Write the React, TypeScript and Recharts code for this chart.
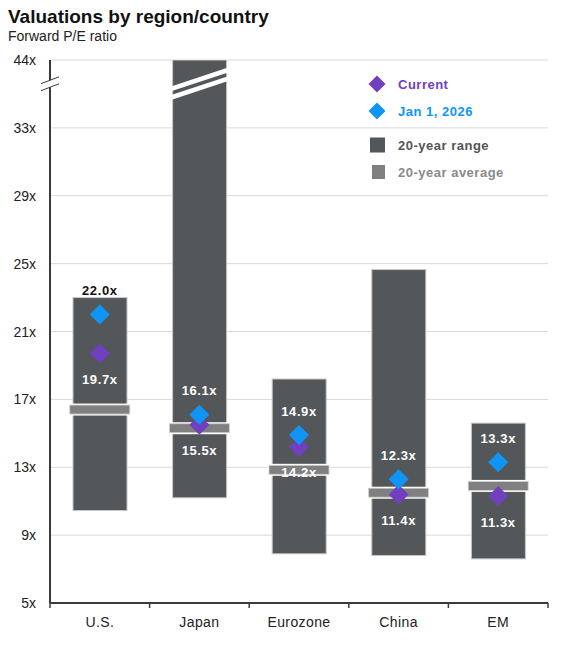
import { Bar, CartesianGrid, ComposedChart, Scatter, XAxis, YAxis } from 'recharts';

const REGIONS = ['U.S.', 'Japan', 'Eurozone', 'China', 'EM'];
const RANGE_LOW = [10.45, 11.2, 7.9, 7.8, 7.6];
const RANGE_HIGH = [23.0, 44.0, 18.2, 24.65, 15.6];
const AVERAGE = [16.4, 15.3, 12.85, 11.5, 11.9];
const CURRENT = [19.7, 15.5, 14.2, 11.4, 11.3];
const JAN_2026 = [22.0, 16.1, 14.9, 12.3, 13.3];
const Y_TICKS = [5, 9, 13, 17, 21, 25, 29, 33, 44];

// axis is broken above 33x: 33 -> 44 squeezed into one tick step
const BREAK_FROM = 33;
const toAxis = (v: number) => (v <= BREAK_FROM ? v : BREAK_FROM + ((v - BREAK_FROM) * 4) / 11);
const fromAxis = (v: number) => (v <= BREAK_FROM ? v : Math.round(BREAK_FROM + ((v - BREAK_FROM) * 11) / 4));

const W = 568;
const H = 647;
const MARGIN = { top: 60, right: 20, bottom: 14, left: 0 };
const Y_AXIS_W = 50;
const X_AXIS_H = 30;
const PLOT_BOTTOM = H - MARGIN.bottom - X_AXIS_H;
const Y_MIN = 5;
const Y_MAX = toAxis(44);
const PX_PER_UNIT = (PLOT_BOTTOM - MARGIN.top) / (Y_MAX - Y_MIN);
const BAND = (W - MARGIN.right - Y_AXIS_W) / REGIONS.length;
const BREAK_AT = 35.6;

const FONT = 'Arial, "Liberation Sans", sans-serif';
const AXIS_COLOR = '#3a3a3a';
const RANGE_FILL = '#54575a';
const RANGE_EDGE = '#c6c6c6';
const AVG_FILL = '#808080';
const PURPLE = '#7040c0';
const BLUE = '#0f95f7';

const rows = REGIONS.map((region, i) => ({
  region,
  low: RANGE_LOW[i],
  high: RANGE_HIGH[i],
  range: [toAxis(RANGE_LOW[i]), toAxis(RANGE_HIGH[i])],
  average: AVERAGE[i],
  current: CURRENT[i],
  jan: JAN_2026[i],
}));

function Diamond({ cx, cy, r, fill }: { cx: number; cy: number; r: number; fill: string }) {
  return <polygon points={`${cx},${cy - r} ${cx + r},${cy} ${cx},${cy + r} ${cx - r},${cy}`} fill={fill} />;
}

function ValueLabel({ x, y, color, children }: any) {
  return (
    <text
      x={x}
      y={y}
      textAnchor="middle"
      dominantBaseline="central"
      fontFamily={FONT}
      fontSize={13}
      fontWeight="bold"
      letterSpacing={0.6}
      fill={color}
    >
      {children}
    </text>
  );
}

function RangeShape(props: any) {
  const { x, y, width, height, payload } = props;
  const top = toAxis(payload.high);
  const broken = payload.high > BREAK_FROM;
  const breakY = y + (top - BREAK_AT) * (height / (top - payload.low));
  const slope = 0.33;
  const xc = x + width / 2;
  const stripe = (offset: number) => {
    const x1 = x - 3;
    const x2 = x + width + 3;
    return (
      <line
        x1={x1}
        y1={breakY + offset - (x1 - xc) * slope}
        x2={x2}
        y2={breakY + offset - (x2 - xc) * slope}
        stroke="#fff"
        strokeWidth={4.6}
      />
    );
  };
  return (
    <g>
      <rect x={x} y={y} width={width} height={height} fill={RANGE_FILL} stroke={RANGE_EDGE} strokeWidth={1} />
      {broken && (
        <g>
          {stripe(-4.3)}
          {stripe(4.3)}
        </g>
      )}
    </g>
  );
}

function AverageShape(props: any) {
  const { cx, cy } = props;
  return (
    <g>
      <rect x={cx - 31} y={cy - 6} width={62} height={12} fill="#fff" />
      <rect x={cx - 30} y={cy - 4.5} width={60} height={9} fill={AVG_FILL} stroke="#d2d2d2" strokeWidth={0.8} />
    </g>
  );
}

function CurrentShape(props: any) {
  const { cx, cy, payload } = props;
  return (
    <g>
      <Diamond cx={cx} cy={cy} r={10} fill={PURPLE} />
      <ValueLabel x={cx} y={cy + 26} color="#fff">
        {payload.current.toFixed(1)}x
      </ValueLabel>
    </g>
  );
}

function JanShape(props: any) {
  const { cx, cy, payload } = props;
  const inside = toAxis(payload.jan) + 24 / PX_PER_UNIT < toAxis(payload.high);
  return (
    <g>
      <Diamond cx={cx} cy={cy} r={10} fill={BLUE} />
      <ValueLabel x={cx} y={cy - 24} color={inside ? '#fff' : '#111'}>
        {payload.jan.toFixed(1)}x
      </ValueLabel>
    </g>
  );
}

function RegionTick(props: any) {
  const { x, y, payload, index } = props;
  const half = BAND / 2;
  return (
    <g>
      <line x1={x - half} x2={x - half} y1={y} y2={y + 5} stroke={AXIS_COLOR} strokeWidth={1.5} />
      {index === REGIONS.length - 1 && (
        <line x1={x + half} x2={x + half} y1={y} y2={y + 5} stroke={AXIS_COLOR} strokeWidth={1.5} />
      )}
      <text x={x} y={y + 19} textAnchor="middle" dominantBaseline="central" fontFamily={FONT} fontSize={14} letterSpacing={0.4} fill="#222">
        {payload.value}
      </text>
    </g>
  );
}

function ValueTick(props: any) {
  const { x, y, payload } = props;
  const isTop = payload.value === Y_MAX;
  const axisX = Y_AXIS_W;
  const by = y + (Y_MAX - BREAK_AT) * PX_PER_UNIT;
  const s = 0.38;
  const slash = (off: number) => (
    <line x1={axisX - 9} y1={by + off + 9 * s} x2={axisX + 9} y2={by + off - 9 * s} stroke={AXIS_COLOR} strokeWidth={1} />
  );
  return (
    <g>
      {isTop && (
        <g>
          <polygon
            points={`${axisX - 4},${by - 3.5 + 4 * s} ${axisX + 4},${by - 3.5 - 4 * s} ${axisX + 4},${by + 3.5 - 4 * s} ${axisX - 4},${by + 3.5 + 4 * s}`}
            fill="#fff"
          />
          {slash(-3.5)}
          {slash(3.5)}
        </g>
      )}
      <text x={x} y={y} textAnchor="end" dominantBaseline="central" fontFamily={FONT} fontSize={14} fill="#222">
        {fromAxis(payload.value)}x
      </text>
    </g>
  );
}

function LegendBox() {
  const items = [
    { label: 'Current', color: PURPLE, text: PURPLE, kind: 'diamond', y: 84 },
    { label: 'Jan 1, 2026', color: BLUE, text: BLUE, kind: 'diamond', y: 111 },
    { label: '20-year range', color: RANGE_FILL, text: '#555', kind: 'big', y: 145 },
    { label: '20-year average', color: AVG_FILL, text: '#8a8a8a', kind: 'small', y: 172 },
  ];
  return (
    <svg width={W} height={H} style={{ position: 'absolute', left: 0, top: 0, pointerEvents: 'none' }}>
      {items.map((it) => (
        <g key={it.label}>
          {it.kind === 'diamond' && <Diamond cx={377} cy={it.y} r={8.5} fill={it.color} />}
          {it.kind === 'big' && <rect x={370} y={it.y - 7.5} width={15} height={15} fill={it.color} />}
          {it.kind === 'small' && <rect x={372} y={it.y - 7} width={13} height={14} fill={it.color} />}
          <text
            x={398}
            y={it.y}
            dominantBaseline="central"
            fontFamily={FONT}
            fontSize={13}
            fontWeight="bold"
            letterSpacing={0.5}
            fill={it.text}
          >
            {it.label}
          </text>
        </g>
      ))}
    </svg>
  );
}

export default function App() {
  return (
    <div style={{ position: 'absolute', left: 0, top: 0, width: W, height: H, background: '#fff', fontFamily: FONT }}>
      <div style={{ position: 'absolute', left: 8, top: 7, fontSize: 19, lineHeight: '19px', fontWeight: 'bold', color: '#111' }}>
        Valuations by region/country
      </div>
      <div style={{ position: 'absolute', left: 8, top: 29, fontSize: 14, lineHeight: '14px', color: '#222' }}>
        Forward P/E ratio
      </div>
      <div style={{ position: 'absolute', left: 0, top: 0 }}>
        <ComposedChart width={W} height={H} data={rows} margin={MARGIN}>
          <CartesianGrid horizontal vertical={false} stroke="#d9d9d9" strokeWidth={1} />
          <XAxis
            dataKey="region"
            type="category"
            interval={0}
            height={X_AXIS_H}
            axisLine={{ stroke: AXIS_COLOR, strokeWidth: 2 }}
            tickLine={false}
            tickSize={0}
            tickMargin={0}
            tick={<RegionTick />}
          />
          <YAxis
            type="number"
            width={Y_AXIS_W}
            domain={[Y_MIN, Y_MAX]}
            ticks={Y_TICKS.map(toAxis)}
            allowDataOverflow
            axisLine={{ stroke: AXIS_COLOR, strokeWidth: 2 }}
            tickLine={false}
            tickSize={0}
            tickMargin={14}
            tick={<ValueTick />}
          />
          <Bar dataKey="range" barSize={54} shape={<RangeShape />} isAnimationActive={false} />
          <Scatter dataKey="average" shape={<AverageShape />} isAnimationActive={false} />
          <Scatter dataKey="current" shape={<CurrentShape />} isAnimationActive={false} />
          <Scatter dataKey="jan" shape={<JanShape />} isAnimationActive={false} />
        </ComposedChart>
      </div>
      <LegendBox />
    </div>
  );
}
